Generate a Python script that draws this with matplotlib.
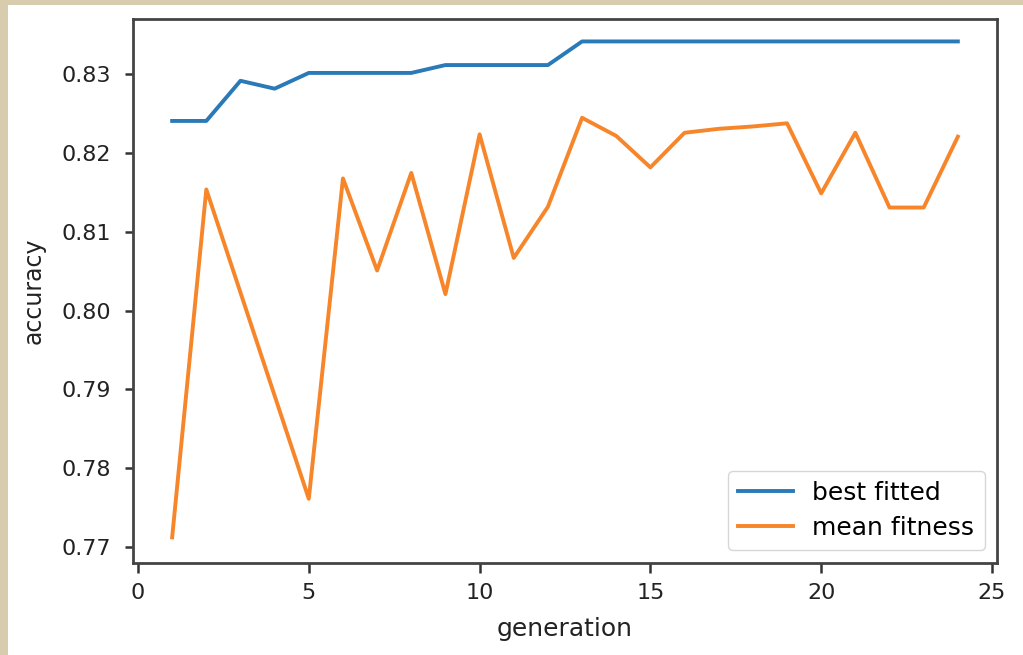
import matplotlib
matplotlib.use("Agg")
import matplotlib.pyplot as plt
from matplotlib.patches import Rectangle

generation = list(range(1, 25))
best_fitted = [0.8241, 0.8241, 0.8292, 0.8282, 0.8302, 0.8302, 0.8302, 0.8302,
               0.8312, 0.8312, 0.8312, 0.8312, 0.8342, 0.8342, 0.8342, 0.8342,
               0.8342, 0.8342, 0.8342, 0.8342, 0.8342, 0.8342, 0.8342, 0.8342]
# generations 3 and 4 lie on the straight segment between 2 and 5 (not readable)
mean_fitness = [0.7712, 0.8154, None, None, 0.7761, 0.8168, 0.8051, 0.8175,
                0.8021, 0.8224, 0.8067, 0.8132, 0.8245, 0.8222, 0.8182, 0.8226,
                0.8231, 0.8234, 0.8238, 0.8149, 0.8226, 0.8131, 0.8131, 0.8221]
x_ticks = [0, 5, 10, 15, 20, 25]
y_ticks = [0.77, 0.78, 0.79, 0.80, 0.81, 0.82, 0.83]
y_ticklabels = ["0.77", "0.78", "0.79", "0.80", "0.81", "0.82", "0.83"]

W, H = 1023, 655
fig = plt.figure(figsize=(W / 100, H / 100), dpi=100)
fig.patch.set_facecolor("white")
beige = "#d8ccae"
fig.patches.append(Rectangle((0, 0), 8 / W, 1, transform=fig.transFigure,
                             facecolor=beige, edgecolor="none", zorder=-1))
fig.patches.append(Rectangle((0, 1 - 5 / H), 1, 5 / H, transform=fig.transFigure,
                             facecolor=beige, edgecolor="none", zorder=-1))

ax = fig.add_axes([133 / W, (H - 562.5) / H, (997 - 133) / W, (562.5 - 19) / H])

xs_m = [g for g, v in zip(generation, mean_fitness) if v is not None]
ys_m = [v for v in mean_fitness if v is not None]

ax.plot(generation, best_fitted, color="#2a7ab8", lw=2.8, label="best fitted")
ax.plot(xs_m, ys_m, color="#f7852a", lw=2.8, label="mean fitness")

ax.set_xlim(-0.146, 25.146)
ax.set_ylim(0.76801, 0.83705)
ax.set_xticks(x_ticks)
ax.set_yticks(y_ticks)
ax.set_yticklabels(y_ticklabels)

fs = 16
ax.tick_params(labelsize=fs, width=1.8, color="#333333", labelcolor="#222222")
ax.tick_params(axis="x", length=7.5, pad=7)
ax.tick_params(axis="y", length=6, pad=10)
for s in ax.spines.values():
    s.set_linewidth(2.0)
    s.set_color("#444444")

ax.set_xlabel("generation", fontsize=18, color="#222222", labelpad=10)
ax.set_ylabel("accuracy", fontsize=17, color="#222222", labelpad=11)

leg = ax.legend(loc="lower right", fontsize=18, frameon=True,
                borderaxespad=0.5, handlelength=2.2, labelspacing=0.45)
leg.get_frame().set_edgecolor("#cccccc")

fig.savefig("out.png", dpi=100)
